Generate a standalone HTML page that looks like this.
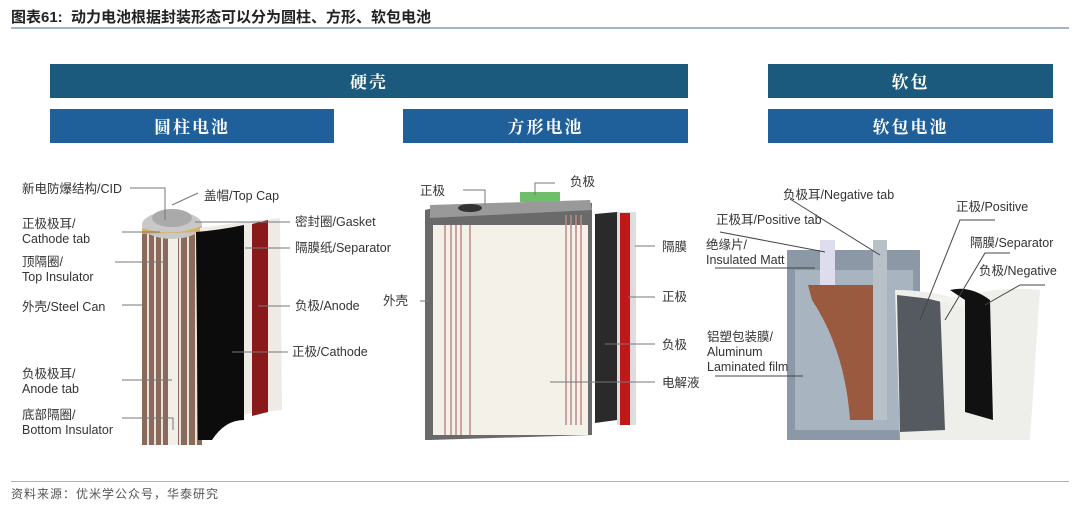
<!DOCTYPE html>
<html><head><meta charset="utf-8"><style>
body{margin:0;width:1080px;height:506px;background:#fff;overflow:hidden;font-family:"Liberation Sans","Noto Sans CJK SC",sans-serif;}
.t{position:absolute;white-space:nowrap;}
.b{position:absolute;color:#fff;font-family:"Noto Serif CJK SC","Noto Sans CJK SC",serif;font-size:17px;font-weight:bold;text-align:center;line-height:34px;height:34px;letter-spacing:2px}
.l{position:absolute;font-size:12.5px;color:#333;line-height:15px;white-space:nowrap}
</style></head><body>
<div class="t" style="left:11px;top:6px;font-size:15px;font-weight:bold;color:#222">图表61:&nbsp; 动力电池根据封装形态可以分为圆柱、方形、软包电池</div>
<div style="position:absolute;left:11px;top:27px;width:1058px;height:2px;background:#9fb5cf"></div>
<div class="b" style="left:50px;top:64px;width:638px;background:#1b5a7c">硬壳</div>
<div class="b" style="left:768px;top:64px;width:285px;background:#1b5a7c">软包</div>
<div class="b" style="left:50px;top:109px;width:284px;background:#20609a">圆柱电池</div>
<div class="b" style="left:403px;top:109px;width:285px;background:#20609a">方形电池</div>
<div class="b" style="left:768px;top:109px;width:285px;background:#20609a">软包电池</div>

<svg style="position:absolute;left:0;top:0" width="1080" height="506">
<!-- cylinder -->
<g>
<rect x="142" y="230" width="60" height="215" fill="#8a6a5a"/>
<g stroke="#e8e2dc" stroke-width="2"><line x1="148" y1="230" x2="148" y2="445"/><line x1="155" y1="230" x2="155" y2="445"/><line x1="162" y1="230" x2="162" y2="445"/><line x1="180" y1="230" x2="180" y2="445"/><line x1="188" y1="230" x2="188" y2="445"/><line x1="196" y1="230" x2="196" y2="445"/></g>
<rect x="168" y="230" width="10" height="215" fill="#f2eee8"/>
<ellipse cx="172" cy="225" rx="30" ry="14" fill="#c8c8c8"/>
<ellipse cx="172" cy="218" rx="20" ry="9" fill="#aaa"/>
<path d="M142 228 Q172 238 202 226 L202 232 L142 234Z" fill="#d9b060"/>
<path d="M200 228 Q240 222 280 218 L282 410 L250 413 Q230 418 210 440 L200 440Z" fill="#eeeae6"/>
<path d="M252 224 L268 220 L268 412 L252 416Z" fill="#8a1a1a"/>
<path d="M196 232 Q220 230 244 225 L244 420 Q225 420 212 440 L198 440Z" fill="#0c0c0c"/>
<g stroke="#777" stroke-width="1" fill="none">
<polyline points="130,188 165,188 165,220"/><line x1="198" y1="193" x2="172" y2="205"/>
<line x1="122" y1="232" x2="160" y2="232"/><line x1="115" y1="262" x2="165" y2="262"/>
<line x1="122" y1="305" x2="142" y2="305"/><line x1="122" y1="380" x2="172" y2="380"/>
<polyline points="122,418 173,418 173,430"/><line x1="290" y1="222" x2="195" y2="222"/>
<line x1="290" y1="248" x2="245" y2="248"/><line x1="290" y1="306" x2="258" y2="306"/>
<line x1="288" y1="352" x2="232" y2="352"/></g>
</g>
<!-- prismatic -->
<g>
<path d="M425 210 L445 205 L592 203 L592 435 L430 440 L425 440Z" fill="#6a6a6a"/>
<rect x="433" y="225" width="155" height="210" fill="#f4f1e8"/>
<g stroke="#b88" stroke-width="1.5"><line x1="445" y1="225" x2="445" y2="435"/><line x1="451" y1="225" x2="451" y2="435"/><line x1="456" y1="225" x2="456" y2="435"/><line x1="461" y1="225" x2="461" y2="435"/><line x1="470" y1="225" x2="470" y2="435"/><line x1="566" y1="215" x2="566" y2="425"/><line x1="571" y1="215" x2="571" y2="425"/><line x1="576" y1="215" x2="576" y2="425"/><line x1="581" y1="215" x2="581" y2="425"/></g>
<path d="M430 205 L590 200 L592 210 L430 218Z" fill="#999"/>
<ellipse cx="470" cy="208" rx="12" ry="4" fill="#333"/>
<rect x="520" y="192" width="40" height="10" fill="#6fbf6a"/>
<path d="M595 214 L617 212 L617 420 L595 423Z" fill="#2a2a2a"/>
<path d="M617 212 L636 212 L636 425 L617 425Z" fill="#ddd"/>
<rect x="620" y="213" width="10" height="212" fill="#c01818"/>
<g stroke="#777" stroke-width="1" fill="none">
<polyline points="463,190 485,190 485,205"/><polyline points="555,183 535,183 535,195"/>
<line x1="420" y1="301" x2="430" y2="301"/><line x1="655" y1="246" x2="635" y2="246"/>
<line x1="655" y1="297" x2="628" y2="297"/><line x1="655" y1="344" x2="605" y2="344"/>
<line x1="655" y1="382" x2="550" y2="382"/></g>
</g>
<!-- pouch -->
<g>
<rect x="787" y="250" width="133" height="190" fill="#8c98a6"/>
<rect x="795" y="270" width="118" height="160" fill="#a8b4c0"/>
<path d="M808 285 L880 285 L880 420 L850 420 Q845 350 812 300Z" fill="#9a5a40"/>
<rect x="820" y="240" width="15" height="45" fill="#dde"/>
<rect x="873" y="240" width="14" height="180" fill="#b8c0c8"/>
<path d="M895 290 Q930 290 960 300 Q990 285 1040 290 L1030 440 L900 440Z" fill="#eeeeea"/>
<path d="M897 295 L940 300 L945 430 L900 432Z" fill="#555a60"/>
<path d="M925 298 Q950 295 990 300 L995 420 L980 412 L975 310Z" fill="#f2f2ee"/>
<path d="M950 290 Q970 285 990 300 L993 420 L965 412 L965 300Z" fill="#111"/>
<g stroke="#444" stroke-width="1" fill="none">
<line x1="790" y1="199" x2="880" y2="255"/><line x1="720" y1="232" x2="825" y2="252"/>
<line x1="715" y1="268" x2="815" y2="268"/><line x1="715" y1="376" x2="803" y2="376"/>
<polyline points="995,220 960,220 920,320"/><polyline points="1010,253 985,253 945,320"/>
<polyline points="1045,285 1020,285 985,305"/></g>
</g>
</svg>

<div class="l" style="left:22px;top:182px">新电防爆结构/CID</div>
<div class="l" style="left:204px;top:189px">盖帽/Top Cap</div>
<div class="l" style="left:22px;top:217px">正极极耳/<br>Cathode tab</div>
<div class="l" style="left:22px;top:255px">顶隔圈/<br>Top Insulator</div>
<div class="l" style="left:22px;top:300px">外壳/Steel Can</div>
<div class="l" style="left:22px;top:367px">负极极耳/<br>Anode tab</div>
<div class="l" style="left:22px;top:408px">底部隔圈/<br>Bottom Insulator</div>
<div class="l" style="left:295px;top:215px">密封圈/Gasket</div>
<div class="l" style="left:295px;top:241px">隔膜纸/Separator</div>
<div class="l" style="left:295px;top:299px">负极/Anode</div>
<div class="l" style="left:292px;top:345px">正极/Cathode</div>

<div class="l" style="left:420px;top:184px">正极</div>
<div class="l" style="left:570px;top:175px">负极</div>
<div class="l" style="left:383px;top:294px">外壳</div>
<div class="l" style="left:662px;top:240px">隔膜</div>
<div class="l" style="left:662px;top:290px">正极</div>
<div class="l" style="left:662px;top:338px">负极</div>
<div class="l" style="left:662px;top:376px">电解液</div>

<div class="l" style="left:783px;top:188px">负极耳/Negative tab</div>
<div class="l" style="left:716px;top:213px">正极耳/Positive tab</div>
<div class="l" style="left:706px;top:238px">绝缘片/<br>Insulated Matt</div>
<div class="l" style="left:956px;top:200px">正极/Positive</div>
<div class="l" style="left:970px;top:236px">隔膜/Separator</div>
<div class="l" style="left:979px;top:264px">负极/Negative</div>
<div class="l" style="left:707px;top:330px">铝塑包装膜/<br>Aluminum<br>Laminated film</div>

<div style="position:absolute;left:11px;top:481px;width:1058px;height:1px;background:#9fb5cf"></div>
<div class="t" style="left:11px;top:485px;font-size:12px;color:#555;letter-spacing:1px">资料来源：优米学公众号，华泰研究</div>
</body></html>
